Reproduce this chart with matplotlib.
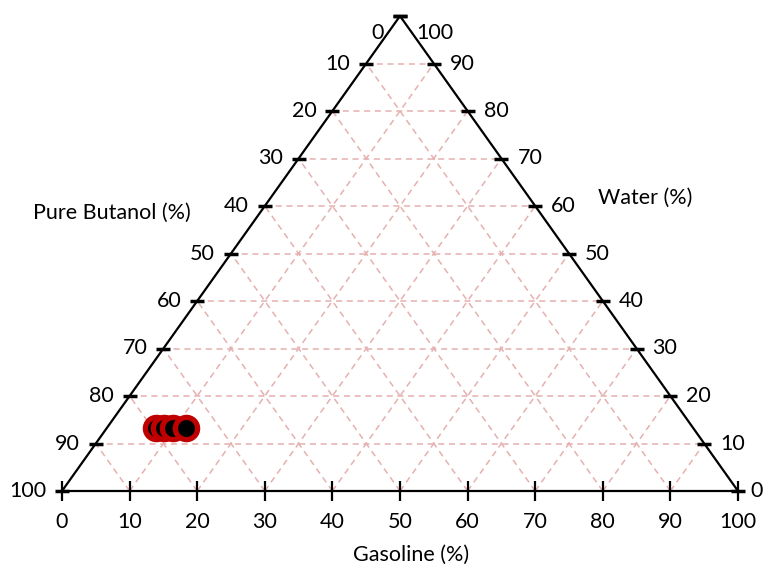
#Ternary diagram: gasoline / water / pure butanol
import matplotlib.pyplot as plt
import numpy as np

# data (percent)
gasoline = [7.3, 8.5, 9.8, 11.7]
water = [13.3, 13.3, 13.3, 13.3]
butanol = [100 - g - w for g, w in zip(gasoline, water)]
ticks = list(range(0, 101, 10))

plt.rcParams['font.family'] = ['Lato', 'DejaVu Sans']
FS = 15.5

W, H = 763, 567
fig = plt.figure(figsize=(W / 100, H / 100), dpi=100)
ax = fig.add_axes([62 / W, (H - 491) / H, (738 - 62) / W, (491 - 16) / H])
ax.set_xlim(0, 100)
ax.set_ylim(0, 100)
ax.axis('off')

def tern(g, w):
    # gasoline along bottom, water up to the top vertex
    g = np.asarray(g, float)
    w = np.asarray(w, float)
    return g + w / 2, w

grid_kw = dict(color='#e6b0b0', lw=1.1, ls=(0, (4, 3)), zorder=1, clip_on=False)
for t in ticks[1:-1]:
    # constant water
    x, y = tern([0, 100 - t], [t, t])
    ax.plot(x, y, **grid_kw)
    # constant gasoline
    x, y = tern([t, t], [0, 100 - t])
    ax.plot(x, y, **grid_kw)
    # constant butanol
    b = t
    x, y = tern([100 - b, 0], [0, 100 - b])
    ax.plot(x, y, **grid_kw)

# triangle
x, y = tern([0, 100, 0, 0], [0, 0, 100, 0])
ax.plot(x, y, color='black', lw=1.6, zorder=3, clip_on=False)

# ticks on left (butanol) and right (water) sides
for t in ticks:
    # left side: butanol = t, gasoline = 0
    lx, ly = tern(0, 100 - t)
    ax.plot(lx, ly, marker='_', ms=10, mew=2.5, color='black', zorder=4, clip_on=False)
    # right side: water = t, gasoline = 100 - t
    rx, ry = tern(100 - t, t)
    ax.plot(rx, ry, marker='_', ms=10, mew=2.5, color='black', zorder=4, clip_on=False)
    # bottom: gasoline = t
    bx, by = tern(t, 0)
    ax.plot(bx, by, marker='|', ms=15, mew=1.6, color='black', zorder=4, clip_on=False)

    ly_off = -17 if t == 0 else 0
    ax.annotate(str(t), (lx, ly), xytext=(-16, ly_off), textcoords='offset pixels',
                ha='right', va='center', fontsize=FS)
    ry_off = -17 if t == 100 else 0
    rx_off = 12 if t == 0 else 16
    ax.annotate(str(t), (rx, ry), xytext=(rx_off, ry_off), textcoords='offset pixels',
                ha='left', va='center', fontsize=FS)
    ax.annotate(str(t), (bx, by), xytext=(0, -31), textcoords='offset pixels',
                ha='center', va='center', fontsize=FS)

# data points
px, py = tern(gasoline, water)
ax.plot(px, py, 'o', ms=16, mfc='black', mec='#c00000', mew=3.8, zorder=5,
        clip_on=False)

# axis titles
fig.text(112 / W, 1 - 213 / H, 'Pure Butanol (%)', ha='center', va='center', fontsize=FS)
fig.text(645 / W, 1 - 198 / H, 'Water (%)', ha='center', va='center', fontsize=FS)
fig.text(411 / W, 1 - 555 / H, 'Gasoline (%)', ha='center', va='center', fontsize=FS)

plt.savefig('out.png', dpi=100)
